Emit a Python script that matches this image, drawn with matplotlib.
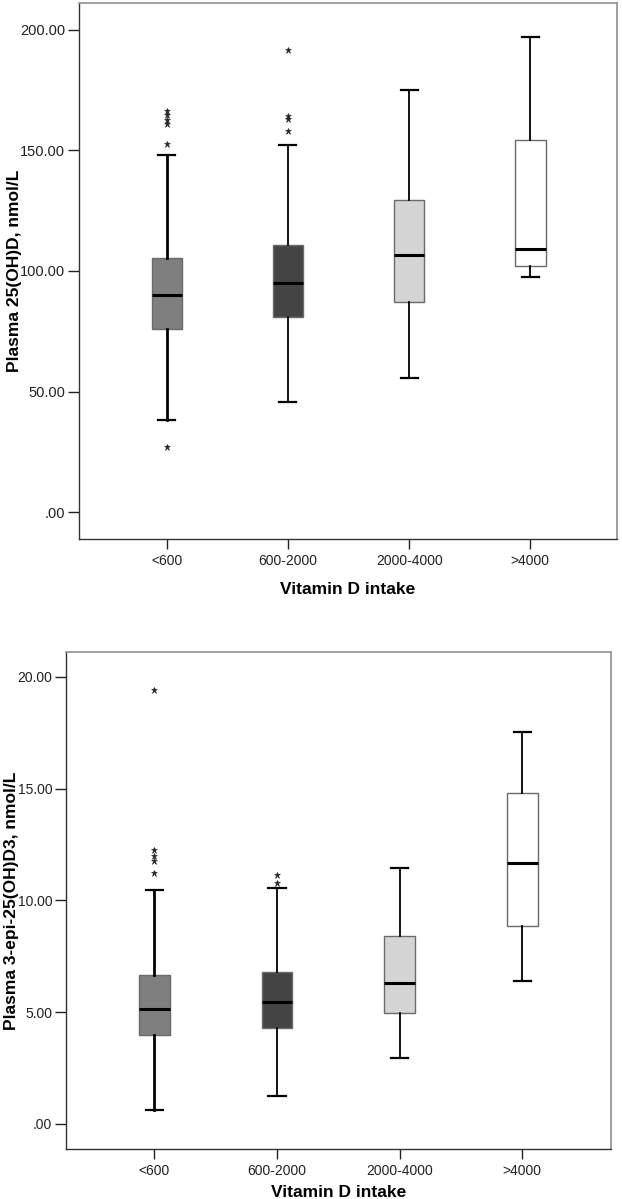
import matplotlib
matplotlib.use("Agg")
import matplotlib.pyplot as plt
from matplotlib.ticker import FuncFormatter

plt.rcParams['font.family'] = ['Liberation Sans', 'DejaVu Sans']

groups = ['<600', '600-2000', '2000-4000', '>4000']
box_colors = ['#7f7f7f', '#444444', '#d4d4d4', '#ffffff']

# Plasma 25(OH)D, nmol/L
d_q1 = [76.0, 81.1, 87.2, 101.9]
d_med = [89.9, 95.2, 106.5, 109.2]
d_q3 = [105.4, 110.8, 129.5, 154.4]
d_lo = [38.3, 45.9, 55.7, 97.3]
d_hi = [148.2, 152.0, 174.8, 196.8]
d_out = [[26.9, 152.6, 160.8, 162.5, 164.5, 166.3], [157.8, 162.8, 164.0, 191.4], [], []]

# Plasma 3-epi-25(OH)D3, nmol/L
e_q1 = [3.98, 4.28, 4.94, 8.83]
e_med = [5.13, 5.47, 6.32, 11.68]
e_q3 = [6.64, 6.81, 8.41, 14.82]
e_lo = [0.61, 1.25, 2.97, 6.38]
e_hi = [10.44, 10.57, 11.44, 17.51]
e_out = [[11.22, 11.74, 12.0, 12.26, 19.39], [10.77, 11.14], [], []]


def fmt(v, pos):
    s = f"{v:.2f}"
    return s[1:] if s.startswith("0") else s


def draw(ax, q1, med, q3, lo, hi, out, ylabel, ylim, yticks, xlim, ylab_x, xpad, ysize):
    stats = []
    for i in range(len(groups)):
        stats.append(dict(q1=q1[i], med=med[i], q3=q3[i], whislo=lo[i],
                          whishi=hi[i], fliers=out[i], label=groups[i]))
    bp = ax.bxp(stats, positions=range(1, len(groups) + 1), widths=0.25,
                patch_artist=True, showfliers=True,
                boxprops=dict(edgecolor='#6a6a6a', linewidth=1.0),
                medianprops=dict(color='black', linewidth=2.2),
                whiskerprops=dict(color='black', linewidth=1.3),
                capprops=dict(color='black', linewidth=1.6),
                capwidths=0.14,
                flierprops=dict(marker='*', markersize=5, markerfacecolor='#222222',
                                markeredgecolor='#222222', markeredgewidth=0.4,
                                linestyle='none'))
    for patch, c in zip(bp['boxes'], box_colors):
        patch.set_facecolor(c)
    # first group is drawn with heavier whiskers in the original
    for w in bp['whiskers'][:2]:
        w.set_linewidth(2.0)
    ax.set_xlim(*xlim)
    ax.set_ylim(*ylim)
    ax.set_yticks(yticks)
    ax.yaxis.set_major_formatter(FuncFormatter(fmt))
    ax.tick_params(axis='y', direction='out', length=8, width=1, pad=2,
                   labelsize=ysize, colors='#222222')
    ax.tick_params(axis='x', direction='out', length=7, width=1, pad=4,
                   labelsize=10, colors='#222222')
    for s in ['top', 'right']:
        ax.spines[s].set_color('#999999')
        ax.spines[s].set_linewidth(1.3)
    for s in ['left', 'bottom']:
        ax.spines[s].set_color('#333333')
        ax.spines[s].set_linewidth(1.0)
    ax.set_ylabel(ylabel, fontsize=12.5, fontweight='bold')
    ax.yaxis.set_label_coords(ylab_x, 0.5)
    ax.set_xlabel('Vitamin D intake', fontsize=12.5, fontweight='bold', labelpad=xpad)


fig = plt.figure(figsize=(6.22, 11.99), dpi=100)
ax1 = fig.add_axes([0.127, 0.5505, 0.865, 0.447])
ax2 = fig.add_axes([0.1066, 0.0417, 0.8757, 0.4148])

draw(ax1, d_q1, d_med, d_q3, d_lo, d_hi, d_out, 'Plasma 25(OH)D, nmol/L',
     (-11, 211), [0, 50, 100, 150, 200], (0.276, 4.715), -0.106, 10, 10.5)
draw(ax2, e_q1, e_med, e_q3, e_lo, e_hi, e_out, 'Plasma 3-epi-25(OH)D3, nmol/L',
     (-1.12, 21.12), [0, 5, 10, 15, 20], (0.283, 4.723), -0.087, 5, 10)

fig.savefig('out.png', dpi=100)
